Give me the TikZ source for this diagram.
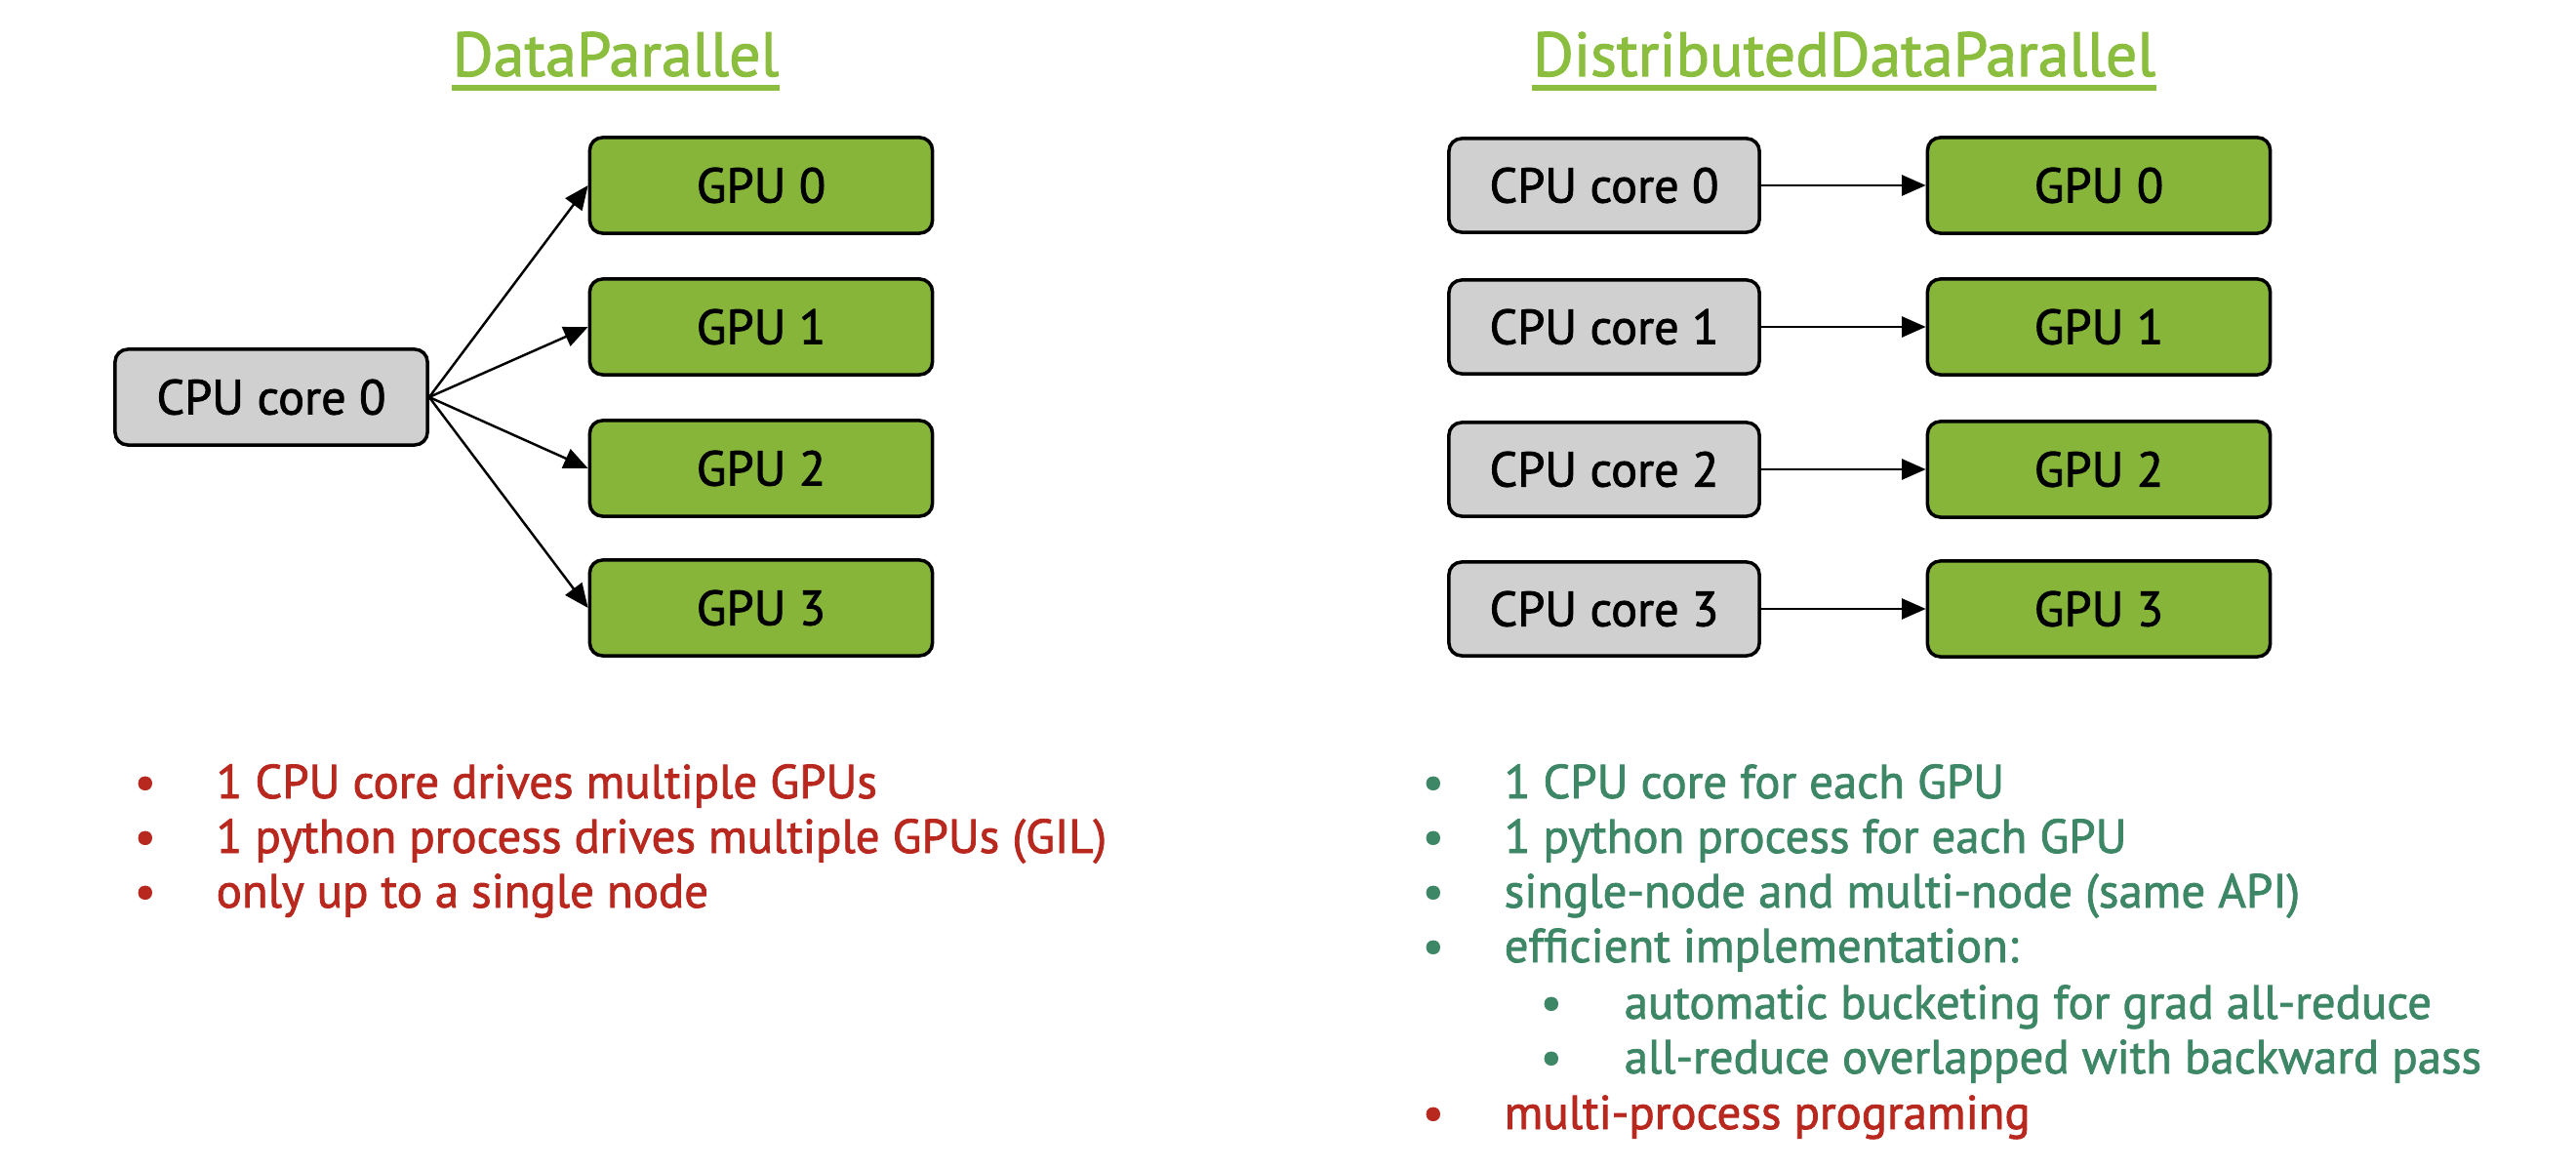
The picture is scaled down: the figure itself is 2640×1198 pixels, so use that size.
\documentclass[tikz,border=0pt]{standalone}
\usepackage{fontspec}
\setmainfont{PT Sans}[FakeBold=1.6]
\usetikzlibrary{arrows.meta}
\definecolor{gpugreen}{HTML}{86B53A}
\definecolor{titlegreen}{HTML}{8BBE3F}
\definecolor{cpugrey}{HTML}{D0D0D0}
\definecolor{redtxt}{HTML}{B8281E}
\definecolor{tealtxt}{HTML}{3D8766}
\tikzset{
  box/.style={draw=black, line width=1pt, rounded corners=0.13cm, minimum height=0.98cm,
    font=\fontsize{14.3}{16}\selectfont, inner sep=0pt},
  cpubox/.style={box, fill=cpugrey, minimum width=3.2cm},
  gpubox/.style={box, fill=gpugreen, minimum width=3.51cm},
  title/.style={font=\fontsize{18.2}{22}\selectfont, text=titlegreen, inner sep=0pt},
  uline/.style={titlegreen, line width=1.6pt},
  conn/.style={-{Triangle[length=7pt,width=6pt]}, line width=0.7pt},
  item/.style={anchor=base west, inner sep=0pt, font=\fontsize{13.9}{16}\selectfont},
}
\begin{document}
\begin{tikzpicture}[x={(0.01cm,0)}, y={(0,-0.01cm)}]
\useasboundingbox (0,0) rectangle (2640,1198);
% DataParallel
\node[title, anchor=base] (t1) at (631,78) {DataParallel};
\draw[uline] ([yshift=-0.12cm]t1.base west) -- ([yshift=-0.12cm]t1.base east);
\node[cpubox] (c) at (278,407) {CPU core 0};
\node[gpubox] (g0) at (780,190) {GPU 0};
\node[gpubox] (g1) at (780,335) {GPU 1};
\node[gpubox] (g2) at (780,480) {GPU 2};
\node[gpubox] (g3) at (780,623) {GPU 3};
\foreach \g in {g0,g1,g2,g3} \draw[conn] (c.east) -- (\g.west);
% DistributedDataParallel
\node[title, anchor=base] (t2) at (1890,78) {DistributedDataParallel};
\draw[uline] ([yshift=-0.12cm]t2.base west) -- ([yshift=-0.12cm]t2.base east);
\foreach \i/\y in {0/190,1/335,2/481,3/624} {
  \node[cpubox, minimum width=3.18cm, minimum height=0.96cm] (d\i) at (1644,\y) {CPU core \i};
  \node[gpubox] (h\i) at (2151,\y) {GPU \i};
  \draw[conn] (d\i.east) -- (h\i.west);
}
% left bullets
\node[item, text=redtxt] (lb1) at (137,818) {•};
\node[item, text=redtxt] (l1) at (221,818) {1 CPU core drives multiple GPUs};
\node[item, text=redtxt] (lb2) at (137,874) {•};
\node[item, text=redtxt] (l2) at (221,874) {1 python process drives multiple GPUs (GIL)};
\node[item, text=redtxt] (lb3) at (137,930) {•};
\node[item, text=redtxt] (l3) at (221,930) {only up to a single node};
% right bullets
\foreach \n/\y/\t in {1/818/{1 CPU core for each GPU},2/874/{1 python process for each GPU},3/930/{single-node and multi-node (same API)},4/986/{efficient implementation:}} {
  \node[item, text=tealtxt] (rb\n) at (1457,\y) {•};
  \node[item, text=tealtxt] (r\n) at (1541,\y) {\t};
}
\node[item, text=tealtxt] (sb1) at (1578,1044) {•};
\node[item, text=tealtxt] (s1) at (1664,1044) {automatic bucketing for grad all-reduce};
\node[item, text=tealtxt] (sb2) at (1578,1100) {•};
\node[item, text=tealtxt] (s2) at (1664,1100) {all-reduce overlapped with backward pass};
\node[item, text=redtxt] (rb5) at (1457,1157) {•};
\node[item, text=redtxt] (r5) at (1541,1157) {multi-process programing};
\end{tikzpicture}
\end{document}
